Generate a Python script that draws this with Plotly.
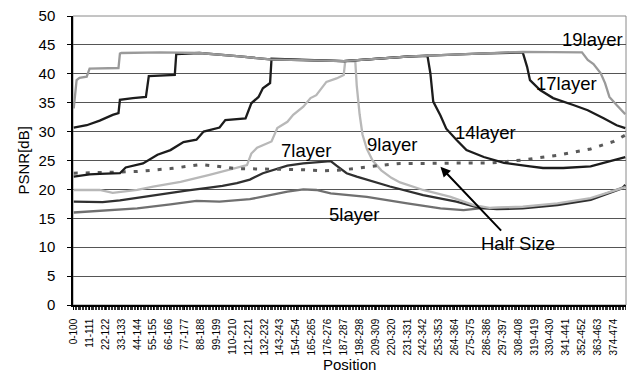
import plotly.graph_objects as go

# x positions are category indices (category i = "i-(i+100)"), 383 categories
tick_positions = [0, 11, 22, 33, 44, 55, 66, 77, 88, 99, 110, 121, 132, 143, 154, 165, 176, 187,
                  198, 209, 220, 231, 242, 253, 264, 275, 286, 297, 308, 319, 330, 341, 352, 363, 374]
tick_labels = ["0-100", "11-111", "22-122", "33-133", "44-144", "55-155", "66-166", "77-177",
               "88-188", "99-199", "110-210", "121-221", "132-232", "143-243", "154-254", "165-265",
               "176-276", "187-287", "198-298", "209-309", "220-320", "231-331", "242-342", "253-353",
               "264-364", "275-375", "286-386", "297-397", "308-408", "319-419", "330-430", "341-441",
               "352-452", "363-463", "374-474"]

l19_x = [0, 2, 4, 9, 11, 31, 32, 33, 60, 87, 115, 136, 187, 233, 280, 311, 352, 356, 360, 365, 368, 371, 376, 380, 382]
l19_y = [34.0, 38.9, 39.3, 39.5, 40.9, 41.0, 43.5, 43.6, 43.7, 43.6, 43.0, 42.5, 42.2, 43.0, 43.5, 43.8, 43.7, 42.4, 41.7, 40.1, 38.4, 36.0, 34.6, 33.4, 33.0]

l17_x = [0, 9, 18, 27, 31, 32, 41, 50, 52, 70, 71, 87, 115, 136, 187, 233, 280, 311, 314, 316, 323, 332, 346, 356, 367, 376, 382]
l17_y = [30.7, 31.1, 31.9, 32.9, 33.2, 35.5, 35.8, 36.0, 39.6, 39.8, 43.4, 43.6, 43.0, 42.5, 42.2, 43.0, 43.5, 43.7, 41.2, 38.9, 37.2, 35.8, 34.6, 33.7, 32.3, 31.1, 30.6]

l14_x = [0, 11, 18, 32, 36, 48, 58, 67, 76, 85, 90, 101, 105, 119, 123, 128, 131, 136, 137, 187, 233, 245,
         247, 249, 254, 258, 265, 272, 284, 298, 316, 325, 339, 348, 358, 367, 376, 382]
l14_y = [22.2, 22.6, 22.7, 22.8, 23.8, 24.5, 26.0, 26.8, 28.2, 28.6, 30.0, 30.7, 32.0, 32.3, 34.9, 36.0, 37.5, 38.4, 42.6, 42.2, 43.0, 43.1,
         40.1, 35.2, 32.8, 30.5, 28.6, 26.8, 25.6, 24.6, 24.0, 23.7, 23.7, 23.8, 24.0, 24.6, 25.2, 25.6]

l9_x = [0, 18, 27, 44, 55, 74, 94, 108, 120, 123, 127, 137, 141, 148, 152, 159, 164, 168, 175, 182, 187, 188, 195,
        196, 198, 200, 203, 207, 213, 220, 226, 242, 261, 277, 288, 311, 335, 358, 380, 382]
l9_y = [19.9, 19.9, 19.4, 19.9, 20.5, 21.3, 22.5, 23.4, 24.2, 26.2, 27.2, 28.3, 30.6, 31.7, 32.9, 34.3, 35.8, 36.3, 38.6, 39.2, 39.8, 42.1, 42.2,
        38.0, 33.0, 29.5, 27.0, 25.0, 23.3, 22.0, 21.2, 19.9, 18.7, 17.3, 16.8, 17.0, 17.6, 18.5, 20.2, 20.4]

l7_x = [0, 20, 32, 55, 78, 94, 103, 113, 122, 131, 141, 148, 159, 178, 182, 189, 196, 219, 242, 265, 281, 293, 311, 335, 358, 380, 382]
l7_y = [17.9, 17.8, 18.1, 19.0, 19.8, 20.3, 20.6, 21.1, 21.7, 22.8, 23.6, 24.1, 24.5, 24.9, 24.1, 22.8, 22.2, 20.5, 19.0, 17.9, 16.8, 16.6, 16.7, 17.3, 18.2, 20.2, 20.8]

l5_x = [0, 20, 44, 67, 85, 101, 122, 136, 148, 159, 168, 178, 189, 203, 231, 254, 270, 281, 311, 335, 358, 380, 382]
l5_y = [16.0, 16.3, 16.7, 17.4, 18.0, 17.9, 18.3, 19.0, 19.6, 20.0, 19.9, 19.3, 19.0, 18.7, 17.6, 16.7, 16.4, 16.7, 16.9, 17.4, 18.3, 20.2, 20.5]

half_x = [0, 11, 44, 67, 88, 96, 113, 136, 159, 173, 187, 207, 226, 242, 277, 290, 311, 335, 358, 374, 382]
half_y = [22.8, 22.9, 23.1, 23.6, 24.3, 24.1, 23.6, 23.5, 23.4, 23.2, 23.4, 24.0, 24.5, 24.5, 24.5, 24.6, 25.1, 25.9, 27.0, 28.3, 29.4]

FONT = "Liberation Sans, Arial, sans-serif"

fig = go.Figure()

def add_line(xs, ys, color, dash="solid", width=2.3):
    fig.add_trace(go.Scatter(x=xs, y=ys, mode="lines",
                             line=dict(color=color, width=width, dash=dash),
                             hoverinfo="skip", showlegend=False))

add_line(l5_x, l5_y, "#707070")
add_line(l7_x, l7_y, "#303030")
add_line(l9_x, l9_y, "#b8b8b8")
add_line(half_x, half_y, "#5a5a5a", dash="4px,8px", width=3)
add_line(l14_x, l14_y, "#1c1c1c")
add_line(l17_x, l17_y, "#1c1c1c")
add_line(l19_x, l19_y, "#9a9a9a")

labels = [
    ("19layer", 359.5, 45.9),
    ("17layer", 341.5, 38.4),
    ("14layer", 285.5, 29.9),
    ("9layer", 220.5, 27.7),
    ("7layer", 161, 26.8),
    ("5layer", 194, 15.7),
    ("Half Size", 307.5, 10.6),
]
for txt, x, y in labels:
    fig.add_annotation(x=x, y=y, text=txt, showarrow=False, xref="x", yref="y",
                       font=dict(family=FONT, size=18.5, color="black"))

fig.add_annotation(x=254, y=23.9, ax=297, ay=12.6, xref="x", yref="y", axref="x", ayref="y",
                   text="", showarrow=True, arrowhead=2, arrowsize=1, arrowwidth=2, arrowcolor="black")

# axis titles placed in paper coordinates
fig.add_annotation(x=0.5, y=-0.2076, xref="paper", yref="paper", text="Position", showarrow=False,
                   xanchor="center", yanchor="middle", font=dict(family=FONT, size=15, color="black"))
fig.add_annotation(x=-0.0904, y=0.5, xref="paper", yref="paper", text="PSNR[dB]", showarrow=False,
                   textangle=-90, xanchor="center", yanchor="middle",
                   font=dict(family=FONT, size=15, color="black"))

fig.add_shape(type="rect", xref="paper", yref="paper", x0=0, x1=1, y0=0, y1=1,
              line=dict(color="#8a8a8a", width=1), layer="below")

fig.update_layout(
    width=631, height=374,
    margin=dict(l=73, r=5, t=16, b=69, autoexpand=False),
    paper_bgcolor="white", plot_bgcolor="white",
    font=dict(family=FONT, color="black"),
    xaxis=dict(range=[-0.5, 382.5], tickmode="array", tickvals=tick_positions, ticktext=tick_labels,
               tickangle=-90, tickfont=dict(size=10, family=FONT), showgrid=False, zeroline=False,
               showline=True, linecolor="black", linewidth=1.5, ticks="outside", ticklen=3,
               tickcolor="black", automargin=False, ticklabelstandoff=5,
               minor=dict(tickmode="linear", tick0=0, dtick=1, ticks="outside", ticklen=3,
                          tickcolor="#333333", showgrid=False)),
    yaxis=dict(range=[0, 50], tickmode="linear", tick0=0, dtick=5, showgrid=True,
               gridcolor="#555555", gridwidth=1, zeroline=False, showline=True,
               linecolor="black", linewidth=1.5, ticks="outside", ticklen=4, tickcolor="black",
               tickfont=dict(size=15, family=FONT), automargin=False, ticklabelstandoff=9),
)

fig.write_html("out.html", config={"displayModeBar": False},
               post_script="document.body.style.margin='0';document.body.style.padding='0';")
